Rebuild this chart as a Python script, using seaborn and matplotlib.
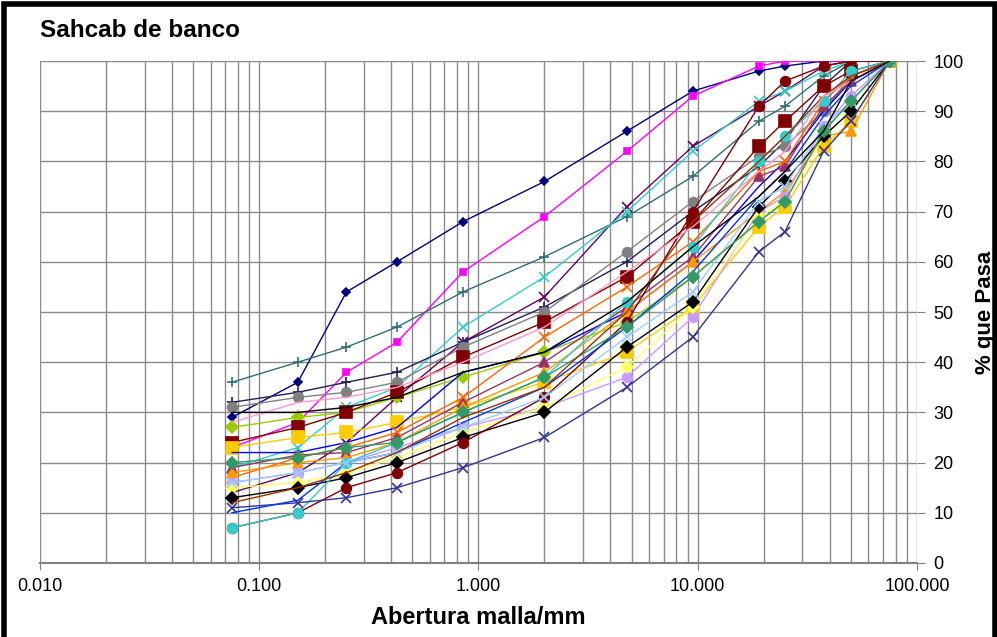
import matplotlib
matplotlib.use("Agg")
import matplotlib.pyplot as plt
import matplotlib.ticker as mticker
from matplotlib.patches import Rectangle
import seaborn as sns
import pandas as pd

sns.set_style("white")
plt.rcParams["font.family"] = ["Liberation Sans", "DejaVu Sans"]
plt.rcParams["text.color"] = "black"
plt.rcParams["axes.labelcolor"] = "black"
plt.rcParams["xtick.labelcolor"] = "black"
plt.rcParams["ytick.labelcolor"] = "black"

# sieve openings (mm)
abertura = [0.075, 0.15, 0.25, 0.425, 0.85, 2.0, 4.75, 9.5, 19, 25, 37.5, 50, 75]

# % que pasa for each sample
muestras = {
    "m01": [29, 36, 54, 60, 68, 76, 86, 94, 98, 99, 100, 100, 100],
    "m02": [23, 28, 38, 44, 58, 69, 82, 93, 99, 100, 100, 100, 100],
    "m03": [36, 40, 43, 47, 54, 61, 69, 77, 88, 91, 97, 100, 100],
    "m04": [14, 18, 24, 33, 44, 53, 71, 83, 91, 94, 99, 100, 100],
    "m05": [19, 23, 31, 35, 47, 57, 70, 82, 92, 94, 98, 100, 100],
    "m06": [32, 34, 36, 38, 44, 51, 60, 70, 79, 84, 95, 100, 100],
    "m07": [31, 33, 34, 36, 43, 50, 62, 72, 81, 83, 90, 97, 100],
    "m08": [27, 29, 30, 33, 37, 42, 48, 57, 68, 72, 86, 92, 100],
    "m09": [24, 27, 30, 34, 41, 48, 57, 68, 83, 88, 95, 98, 100],
    "m10": [23, 25, 26, 28, 31, 36, 42, 51, 67, 71, 83, 88, 100],
    "m11": [22, 22, 24, 27, 38, 42, 50, 60, 75, 80, 90, 96, 100],
    "m12": [19, 21.5, 22, 25, 32, 40, 51, 61, 77, 79, 91, 96, 100],
    "m13": [17, 21, 23, 26, 33, 45, 55, 64, 78, 80, 92, 97, 100],
    "m14": [18, 20, 21, 24, 31, 38, 50, 60, 70, 74, 85, 86, 100],
    "m15": [16, 18, 20, 23, 27, 31, 37, 49, 70, 73, 87, 93, 100],
    "m16": [15, 16, 18, 21, 26, 31, 39, 51, 69, 72, 85, 90, 100],
    "m17": [13, 15, 17, 20, 25, 30, 43, 52, 71, 76, 85, 90, 100],
    "m18": [7, 10, 15, 18, 24, 33, 48, 70, 91, 96, 99, 100, 100],
    "m19": [7, 10, 20, 24, 30, 37, 52, 63, 80, 85, 92, 98, 100],
    "m20": [11, 12, 13, 15, 19, 25, 35, 45, 62, 66, 82, 88, 100],
    "m21": [10, 12.5, 20, 22, 28, 35, 47, 58, 73, 78, 89, 95, 100],
    "m22": [16, 18, 20, 22, 27, 33, 45, 54, 72, 75, 87, 92, 100],
    "m23": [20, 21, 23, 24, 30, 37, 47, 57, 68, 72, 86, 92, 100],
    "m24": [12, 15, 18, 22, 29, 35, 50, 68, 80, 85, 93, 97, 100],
    "m25": [28, 32, 33, 35, 40, 47, 58, 67, 78, 82, 93, 96, 100],
    "m26": [30, 30, 31, 33, 38, 42, 52, 63, 73, 78, 86, 96, 100],
}

colores = ["#000080", "#FF00FF", "#2E7070", "#660066", "#33CCCC", "#1F1F5F",
           "#808080", "#99CC00", "#800000", "#FFCC00", "#0000FF", "#993366",
           "#FF6600", "#FF9900", "#CC99FF", "#FFFF66", "#000000", "#800000",
           "#33CCCC", "#333399", "#0033FF", "#99CCFF", "#339966", "#993300",
           "#FF99CC", "#000000"]
marcas = ["D", "s", "+", "x", "x", "+", "o", "D", "s", "s", None, "^",
          "x", "^", "o", "D", "D", "o", "o", "x", None, "x", "D", None,
          None, None]
tamanos = [4, 5, 7, 7, 7, 7, 7, 6, 8, 8, 0, 7, 7, 7, 7, 6, 6, 7, 7, 7,
           0, 7, 6, 0, 0, 0]

filas = []
for nombre, valores in muestras.items():
    for a, v in zip(abertura, valores):
        filas.append({"muestra": nombre, "abertura": a, "pasa": v})
df = pd.DataFrame(filas)

fig = plt.figure(figsize=(9.97, 6.37), dpi=100)
ax = fig.add_axes([0.0401, 0.1162, 0.8796, 0.788])

ax.set_xscale("log")
ax.set_xlim(0.01, 100)
ax.set_ylim(0, 100)

ax.grid(True, which="both", axis="x", color="#8a8a8a", lw=1)
ax.grid(True, which="major", axis="y", color="#8a8a8a", lw=1)
ax.set_axisbelow(True)

for i, nombre in enumerate(muestras):
    sub = df[df["muestra"] == nombre]
    sns.lineplot(data=sub, x="abertura", y="pasa", ax=ax, color=colores[i],
                 marker=marcas[i], markersize=tamanos[i], lw=1,
                 markeredgecolor=colores[i], markeredgewidth=1.2,
                 legend=False, sort=False)

ax.xaxis.set_major_locator(mticker.LogLocator(base=10, numticks=10))
ax.xaxis.set_minor_locator(mticker.LogLocator(base=10, subs=range(2, 10), numticks=20))
ax.xaxis.set_major_formatter(mticker.FuncFormatter(lambda v, p: f"{v:.3f}"))
ax.xaxis.set_minor_formatter(mticker.NullFormatter())
ax.yaxis.set_major_locator(mticker.MultipleLocator(10))
ax.yaxis.tick_right()
ax.yaxis.set_label_position("right")
ax.tick_params(axis="y", which="major", right=True, length=6, color="#808080",
               labelsize=13, pad=6)
ax.tick_params(axis="x", which="major", bottom=True, length=5, color="#808080",
               labelsize=13, pad=6)
ax.tick_params(axis="x", which="minor", bottom=False)

for s in ["top", "left", "right"]:
    ax.spines[s].set_visible(False)
ax.spines["bottom"].set_color("#808080")
ax.spines["bottom"].set_linewidth(1.5)

ax.set_xlabel("Abertura malla/mm", fontsize=17, fontweight="bold", labelpad=8)
ax.set_ylabel("% que Pasa", fontsize=16, fontweight="bold")
ax.yaxis.set_label_coords(1.066, 0.5)
fig.text(0.04, 0.952, "Sahcab de banco", fontsize=17.5, fontweight="bold",
         ha="left", va="center")

fig.patches.append(Rectangle((0.004, -0.01), 0.994, 1.004, transform=fig.transFigure,
                             fill=False, edgecolor="black", lw=4))

fig.savefig("out.png", dpi=100, facecolor="white")
